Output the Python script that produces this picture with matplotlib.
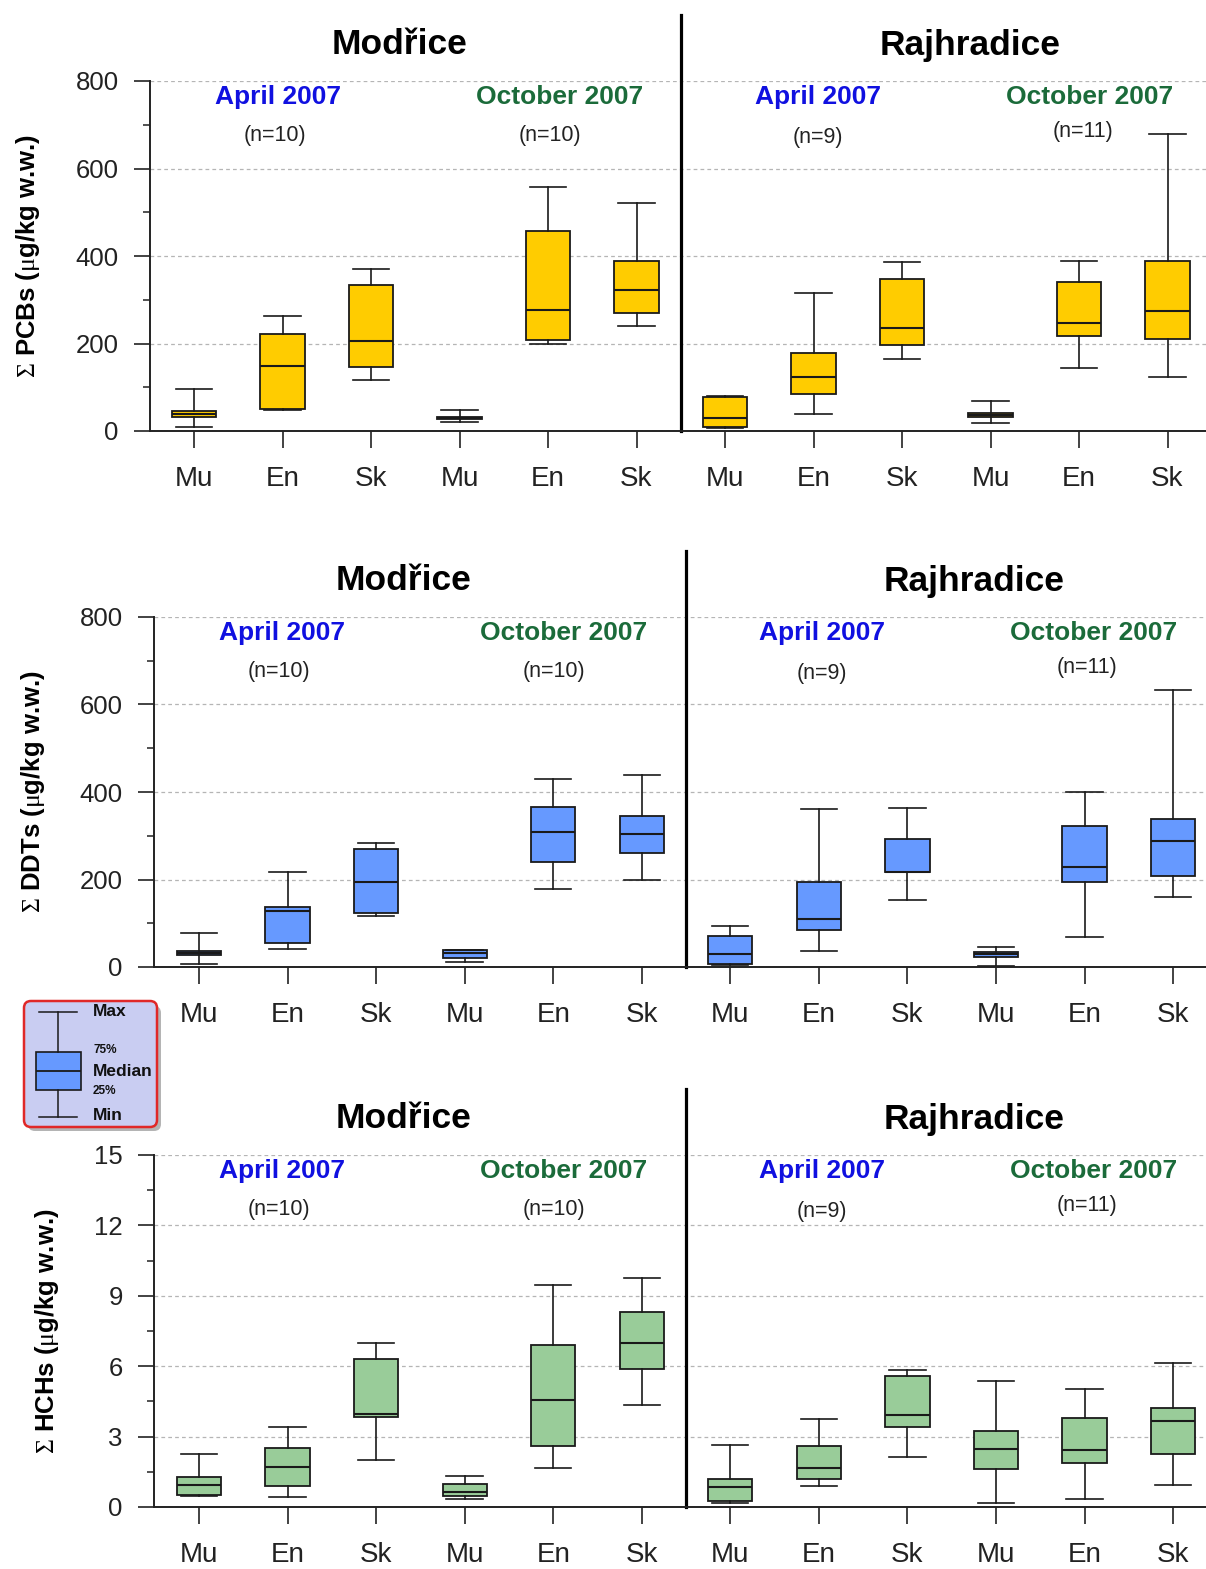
import matplotlib.pyplot as plt
from matplotlib.patches import FancyBboxPatch

plt.rcParams['font.family'] = ['Liberation Sans', 'DejaVu Sans']
plt.rcParams['mathtext.fontset'] = 'custom'
plt.rcParams['mathtext.rm'] = 'Liberation Serif'
plt.rcParams['mathtext.default'] = 'rm'

W, H = 1206, 1569

groups = ['Mu', 'En', 'Sk'] * 4
sites = ['Modřice', 'Rajhradice']
months = ['April 2007', 'October 2007']
n_labels = ['(n=10)', '(n=10)', '(n=9)', '(n=11)']

# order: Modrice Apr Mu/En/Sk, Modrice Oct Mu/En/Sk, Rajhradice Apr ..., Rajhradice Oct ...
pcb_min = [10, 48, 117, 21, 199, 240, 8, 38, 164, 19, 143, 124]
pcb_q1 = [33, 50, 146, 27, 208, 269, 10, 85, 197, 31, 218, 210]
pcb_med = [38, 149, 206, 30, 277, 322, 30, 124, 235, 37, 246, 274]
pcb_q3 = [45, 221, 334, 33, 458, 389, 78, 179, 347, 42, 341, 389]
pcb_max = [95, 263, 370, 48, 558, 522, 81, 315, 386, 69, 389, 680]

ddt_min = [8, 42, 116, 11, 179, 198, 5, 37, 154, 2, 68, 160]
ddt_q1 = [27, 56, 124, 21, 240, 261, 8, 85, 217, 23, 194, 209]
ddt_med = [32, 127, 195, 32, 309, 303, 30, 110, 218, 29, 228, 287]
ddt_q3 = [37, 137, 270, 38, 365, 346, 71, 194, 293, 34, 323, 338]
ddt_max = [78, 218, 283, 40, 430, 439, 93, 361, 364, 46, 399, 633]

hch_min = [0.48, 0.41, 2.02, 0.34, 1.65, 4.36, 0.17, 0.90, 2.11, 0.18, 0.33, 0.94]
hch_q1 = [0.53, 0.88, 3.82, 0.45, 2.59, 5.87, 0.24, 1.21, 3.42, 1.64, 1.88, 2.26]
hch_med = [0.95, 1.69, 3.98, 0.62, 4.55, 6.99, 0.84, 1.68, 3.92, 2.49, 2.45, 3.68]
hch_q3 = [1.28, 2.51, 6.31, 0.99, 6.90, 8.31, 1.19, 2.58, 5.60, 3.25, 3.78, 4.21]
hch_max = [2.26, 3.41, 6.99, 1.34, 9.45, 9.76, 2.64, 3.76, 5.85, 5.35, 5.03, 6.13]

panels = [
    dict(stats=(pcb_min, pcb_q1, pcb_med, pcb_q3, pcb_max), color='#ffcc00',
         ylabel=r'$\Sigma$ PCBs ($\mu$g/kg w.w.)', ymax=800, major=200,
         left=150, top=81, bottom=431, x1=194, dx=88.5, labx=28),
    dict(stats=(ddt_min, ddt_q1, ddt_med, ddt_q3, ddt_max), color='#6699ff',
         ylabel=r'$\Sigma$ DDTs ($\mu$g/kg w.w.)', ymax=800, major=200,
         left=154, top=617, bottom=967, x1=199, dx=88.55, labx=33),
    dict(stats=(hch_min, hch_q1, hch_med, hch_q3, hch_max), color='#99cc99',
         ylabel=r'$\Sigma$ HCHs ($\mu$g/kg w.w.)', ymax=15, major=3,
         left=154, top=1155, bottom=1507, x1=199, dx=88.55, labx=47),
]

fig = plt.figure(figsize=(W / 100, H / 100), dpi=100)


def ftext(x, y, s, **kw):
    fig.text(x / W, 1 - y / H, s, ha='center', va='center', **kw)


for p in panels:
    ax = fig.add_axes([p['left'] / W, 1 - p['bottom'] / H,
                       1 - p['left'] / W, (p['bottom'] - p['top']) / H])
    mins, q1s, meds, q3s, maxs = p['stats']
    stats = [dict(whislo=a, q1=b, med=c, q3=d, whishi=e, fliers=[])
             for a, b, c, d, e in zip(mins, q1s, meds, q3s, maxs)]
    pos = list(range(1, 13))
    ax.bxp(stats, positions=pos, widths=0.5, capwidths=0.41, patch_artist=True,
           showfliers=False,
           boxprops=dict(facecolor=p['color'], edgecolor='#1a1a1a', linewidth=1.3),
           whiskerprops=dict(color='#1a1a1a', linewidth=1.2),
           capprops=dict(color='#1a1a1a', linewidth=1.2),
           medianprops=dict(color='#1a1a1a', linewidth=1.5))
    ax.set_xlim(1 - (p['x1'] - p['left']) / p['dx'], 1 + (W - p['x1']) / p['dx'])
    ax.set_ylim(0, p['ymax'])
    ax.set_xticks(pos)
    ax.set_xticklabels(groups)
    ax.set_yticks([p['major'] * i for i in range(6) if p['major'] * i <= p['ymax']])
    ax.set_yticks([p['major'] * (i + 0.5) for i in range(5) if p['major'] * (i + 0.5) < p['ymax']],
                  minor=True)
    ax.spines['top'].set_visible(False)
    ax.spines['right'].set_visible(False)
    ax.spines['left'].set_linewidth(1.4)
    ax.spines['bottom'].set_linewidth(1.4)
    ax.spines['left'].set_color('#222222')
    ax.spines['bottom'].set_color('#222222')
    ax.tick_params(axis='y', which='major', length=11.5, width=1.2, labelsize=18.5, pad=11,
                   colors='#222222')
    ax.tick_params(axis='y', which='minor', length=5, width=1.1, colors='#222222')
    ax.tick_params(axis='x', length=12, width=1.2, labelsize=20, pad=13, colors='#222222')
    ax.set_axisbelow(True)
    ax.yaxis.grid(True, which='major', linestyle=(0, (3, 2.5)), color='#b5b5b5', linewidth=0.9)
    ax.axvline(6.5, 0, 1 + 66 / (p['bottom'] - p['top']), color='black', lw=2.3, clip_on=False)

    fig.text(p['labx'] / W, 1 - (p['top'] + p['bottom']) / 2 / H, p['ylabel'],
             rotation=90, ha='center', va='center', fontsize=18.5, fontweight='bold')

    L, T = p['left'], p['top']
    ftext(L + 250, T - 37, sites[0], fontsize=25.5, fontweight='bold')
    ftext(L + 820, T - 35, sites[1], fontsize=25.5, fontweight='bold')
    for k, (mx, nx, dy) in enumerate([(128, 125, 55), (410, 400, 55), (668, 668, 56), (940, 933, 51)]):
        col = '#1010e0' if k % 2 == 0 else '#1b6b3a'
        ftext(L + mx, T + 16, months[k % 2], fontsize=19, fontweight='bold', color=col)
        ftext(L + nx, T + dy, n_labels[k], fontsize=15.5, color='#222222')

# legend glyph
leg = fig.add_axes([23 / W, 1 - 1128 / H, 135 / W, 128 / H])
leg.add_patch(FancyBboxPatch((5, 6), 133, 125, boxstyle='round,pad=0,rounding_size=7',
                             fc='#777777', ec='none', alpha=0.55, clip_on=False))
leg.add_patch(FancyBboxPatch((1, 1), 133, 126, boxstyle='round,pad=0,rounding_size=7',
                             fc='#c9cdf2', ec='#e02828', lw=1.8, clip_on=False))
leg.bxp([dict(whislo=117, q1=90, med=71, q3=52, whishi=12, fliers=[])], positions=[35],
        widths=45, capwidths=38, patch_artist=True, showfliers=False,
        boxprops=dict(facecolor='#6699ff', edgecolor='#1a1a1a', linewidth=1.2),
        whiskerprops=dict(color='#1a1a1a', linewidth=1.1),
        capprops=dict(color='#1a1a1a', linewidth=1.1),
        medianprops=dict(color='#1a1a1a', linewidth=1.3))
leg.set_xlim(0, 135)
leg.set_ylim(128, 0)
leg.axis('off')
for txt, yy, fs in [('Max', 11, 12.5), ('75%', 50, 8.5), ('Median', 71, 12.5), ('25%', 91, 8.5), ('Min', 116, 12.5)]:
    leg.text(70, yy, txt, fontsize=fs, fontweight='bold', va='center', ha='left', color='#111111')

fig.savefig('out.png', dpi=100)
